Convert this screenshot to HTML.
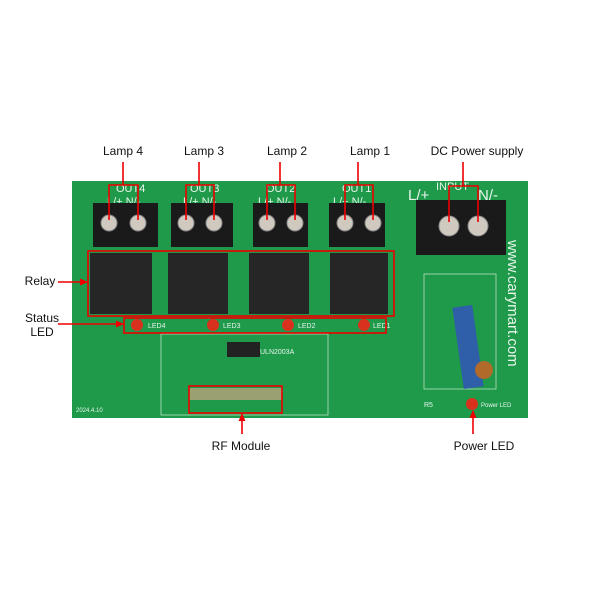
<!DOCTYPE html>
<html><head><style>
body{margin:0;background:#fff;width:600px;height:600px;overflow:hidden;font-family:"Liberation Sans",sans-serif}
</style></head><body>
<svg width="600" height="600" viewBox="0 0 600 600" xmlns="http://www.w3.org/2000/svg" font-family="Liberation Sans, sans-serif">
<defs>
<marker id="a" markerUnits="userSpaceOnUse" markerWidth="8" markerHeight="8" refX="7" refY="4" orient="auto"><path d="M0,0.5 L8,4 L0,7.5z" fill="#e00"/></marker>
</defs>
<rect x="72" y="181" width="456" height="237" fill="#1e9a4a"/>
<g fill="#e8f5ec" font-size="11">
<text x="116" y="192">OUT4</text><text x="107" y="205">L/+ N/-</text>
<text x="190" y="192">OUT3</text><text x="183" y="205">L/+ N/-</text>
<text x="266" y="192">OUT2</text><text x="258" y="205">L/+ N/-</text>
<text x="342" y="192">OUT1</text><text x="333" y="205">L/+ N/-</text>
<text x="408" y="200" font-size="15">L/+</text><text x="478" y="200" font-size="15">N/-</text>
<text x="436" y="190">INPUT</text>
<text transform="translate(508,240) rotate(90)" font-size="15">www.carymart.com</text>
<text x="76" y="412" font-size="6">2024.4.10</text>
<text x="260" y="354" font-size="7">ULN2003A</text>
<text x="148" y="328" font-size="7">LED4</text><text x="223" y="328" font-size="7">LED3</text>
<text x="298" y="328" font-size="7">LED2</text><text x="373" y="328" font-size="7">LED1</text>
<text x="481" y="407" font-size="6">Power LED</text><text x="424" y="407" font-size="7">R5</text>
</g>
<rect x="161" y="334" width="167" height="81" fill="none" stroke="#b8e0c4" stroke-width="0.8"/>
<rect x="424" y="274" width="72" height="115" fill="none" stroke="#b8e0c4" stroke-width="0.8"/>
<rect x="227" y="342" width="33" height="15" fill="#222"/>
<g fill="#1a1a1a">
<rect x="93" y="203" width="65" height="44"/><rect x="171" y="203" width="62" height="44"/>
<rect x="253" y="203" width="55" height="44"/><rect x="329" y="203" width="56" height="44"/>
<rect x="416" y="200" width="90" height="55"/>
</g>
<g fill="#cfc9c0" stroke="#888">
<circle cx="109" cy="223" r="8"/><circle cx="138" cy="223" r="8"/>
<circle cx="186" cy="223" r="8"/><circle cx="214" cy="223" r="8"/>
<circle cx="267" cy="223" r="8"/><circle cx="295" cy="223" r="8"/>
<circle cx="345" cy="223" r="8"/><circle cx="373" cy="223" r="8"/>
<circle cx="449" cy="226" r="10"/><circle cx="478" cy="226" r="10"/>
</g>
<g fill="#262626">
<rect x="90" y="253" width="62" height="61"/><rect x="168" y="253" width="60" height="61"/>
<rect x="249" y="253" width="60" height="61"/><rect x="330" y="253" width="58" height="61"/>
</g>
<rect x="458" y="306" width="20" height="82" fill="#2f5fa8" transform="rotate(-8 468 347)"/>
<circle cx="484" cy="370" r="9" fill="#b06a2a"/>
<rect x="189" y="388" width="93" height="12" fill="#9aa070"/>
<g fill="#d8321e">
<circle cx="137" cy="325" r="6"/><circle cx="213" cy="325" r="6"/><circle cx="288" cy="325" r="6"/><circle cx="364" cy="325" r="6"/><circle cx="472" cy="404" r="6"/>
</g>
<g fill="none" stroke="#e00" stroke-width="1.6">
<rect x="88" y="251" width="306" height="65"/>
<rect x="124" y="318" width="262" height="15"/>
<rect x="189" y="386" width="93" height="27"/>
<path d="M123 162V185M109 220V185H138V220"/>
<path d="M199 162V185M186 220V185H214V220"/>
<path d="M280 162V185M267 220V185H295V220"/>
<path d="M358 162V185M345 220V185H373V220"/>
<path d="M463 162V186M449 222V186H478V222"/>
<path d="M58 282H87" marker-end="url(#a)"/>
<path d="M58 324H123" marker-end="url(#a)"/>
<path d="M242 434V414" marker-end="url(#a)"/>
<path d="M473 434V411" marker-end="url(#a)"/>
</g>
<g font-size="12" fill="#111" text-anchor="middle">
<text x="123" y="155">Lamp 4</text><text x="204" y="155">Lamp 3</text>
<text x="287" y="155">Lamp 2</text><text x="370" y="155">Lamp 1</text>
<text x="477" y="155">DC Power supply</text>
<text x="40" y="285">Relay</text>
<text x="42" y="322">Status</text><text x="42" y="336">LED</text>
<text x="241" y="450">RF Module</text><text x="484" y="450">Power LED</text>
</g>
</svg>
</body></html>
